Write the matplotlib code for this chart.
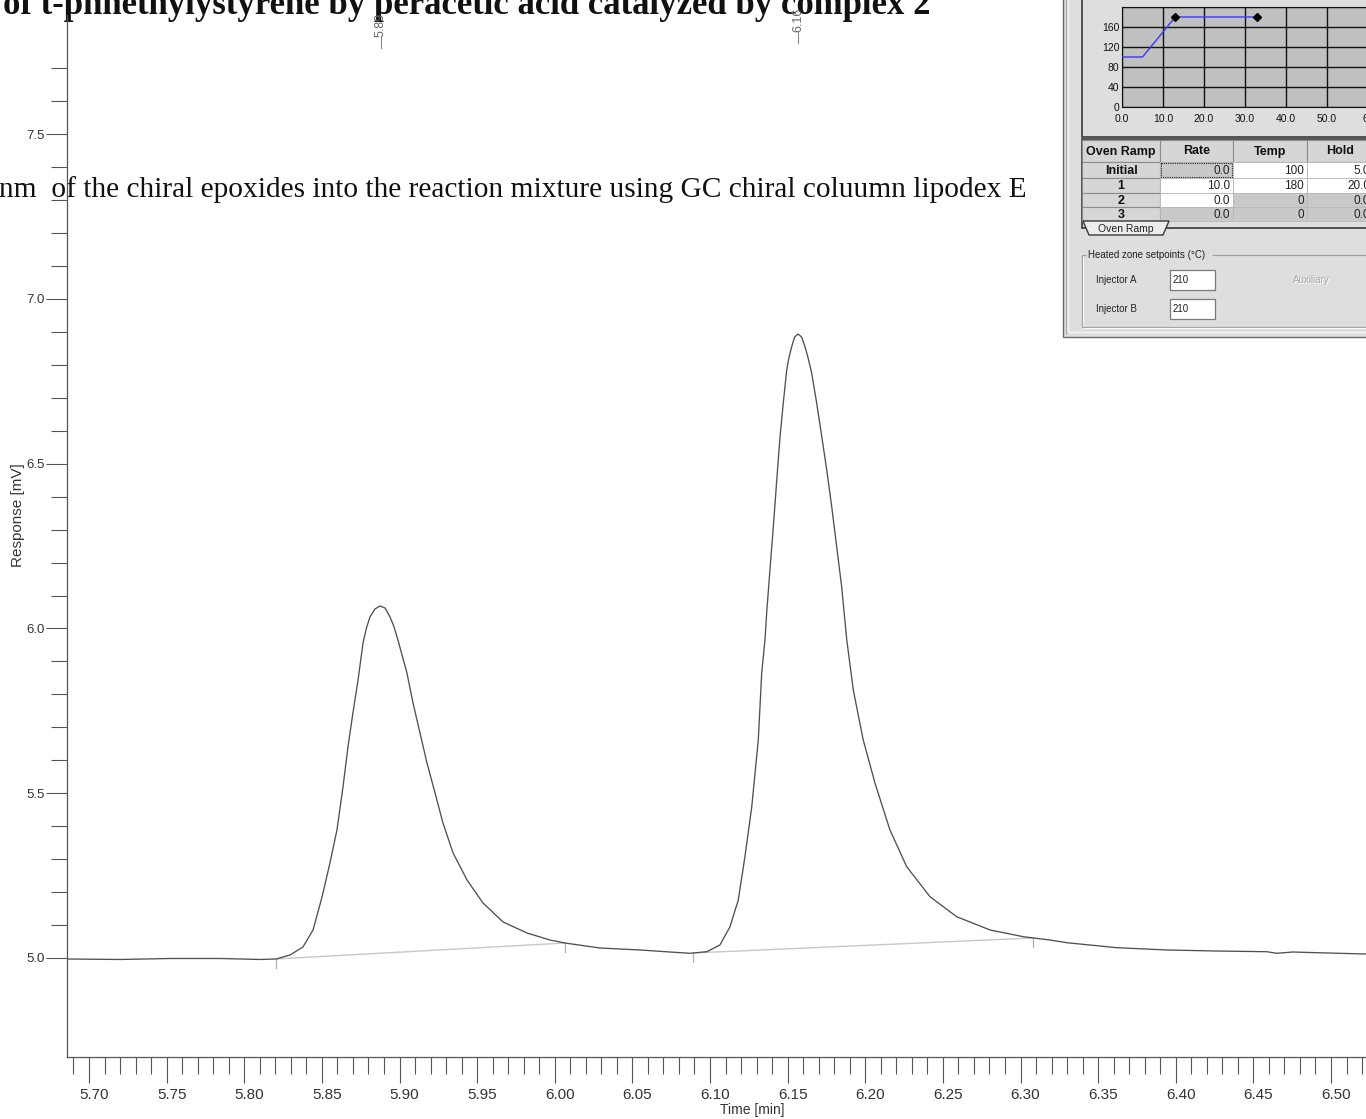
import matplotlib
matplotlib.use('Agg')
import matplotlib.pyplot as plt
from matplotlib.patches import Rectangle, Polygon
from matplotlib.transforms import ScaledTranslation
import numpy as np

W, H, DPI = 1366, 1119, 100
plt.rcParams['font.family'] = ['Liberation Sans', 'DejaVu Sans']

# ---------------- data ----------------
time_min = [5.6858, 5.7200, 5.7522, 5.7844, 5.8101, 5.8205,
            5.8295, 5.8378, 5.8443, 5.8501, 5.8552, 5.8597, 5.8636, 5.8668,
            5.8700, 5.8733, 5.8765, 5.8787, 5.8810, 5.8842, 5.8874, 5.8907,
            5.8939, 5.8965,
            5.8990, 5.9048, 5.9087, 5.9132, 5.9177, 5.9229, 5.9280, 5.9345,
            5.9435, 5.9538, 5.9667, 5.9821, 5.9969, 6.0066, 6.0291, 6.0549,
            6.0742, 6.0871,
            6.0979, 6.1064, 6.1129, 6.1182, 6.1225, 6.1269, 6.1311, 6.1333,
            6.1354, 6.1365, 6.1386, 6.1408, 6.1430, 6.1451, 6.1472, 6.1494,
            6.1508, 6.1526, 6.1545, 6.1567, 6.1590, 6.1612, 6.1632, 6.1655,
            6.1687, 6.1720, 6.1752, 6.1784,
            6.1816, 6.1848, 6.1881, 6.1923, 6.1987, 6.2063, 6.2159, 6.2267,
            6.2417, 6.2589, 6.2804, 6.3018, 6.3190, 6.3298, 6.3620, 6.3942,
            6.4264, 6.4586, 6.4650, 6.4755, 6.4908, 6.5225]
response_mv = [4.9970, 4.9955, 4.9985, 4.9985, 4.9955, 4.9970,
               5.0091, 5.0334, 5.0850, 5.1851, 5.2883, 5.3885, 5.5190, 5.6404,
               5.7436, 5.8437, 5.9560, 6.0015, 6.0349, 6.0592, 6.0683, 6.0622,
               6.0349, 6.0046,
               5.9651, 5.8649, 5.7739, 5.6829, 5.5918, 5.5008, 5.4097, 5.3187,
               5.2367, 5.1669, 5.1093, 5.0759, 5.0546, 5.0455, 5.0303, 5.0243,
               5.0182, 5.0143,
               5.0191, 5.0395, 5.0950, 5.1760, 5.3074, 5.4592, 5.6616, 5.8649,
               5.9651, 6.0470, 6.1775, 6.3090, 6.4507, 6.5821, 6.6844, 6.7845,
               6.8209, 6.8553, 6.8847, 6.8938, 6.8847, 6.8553, 6.8209, 6.7754,
               6.6844, 6.5821, 6.4810, 6.3697,
               6.2483, 6.1269, 5.9651, 5.8134, 5.6616, 5.5302, 5.3885, 5.2771,
               5.1860, 5.1253, 5.0850, 5.0646, 5.0546, 5.0464, 5.0313, 5.0243,
               5.0212, 5.0191, 5.0143, 5.0182, 5.0161, 5.0121]

# integration baselines (start/end time, start/end response)
base1_t = [5.8205, 6.0066]
base1_v = [4.9970, 5.0455]
base2_t = [6.0891, 6.3081]
base2_v = [5.0152, 5.0607]

peak_times = [5.888, 6.157]
peak_labels = ["5.89", "6.16"]
peak_label_v = [7.795, 7.810]

x_major = [5.70, 5.75, 5.80, 5.85, 5.90, 5.95, 6.00, 6.05, 6.10,
           6.15, 6.20, 6.25, 6.30, 6.35, 6.40, 6.45, 6.50]
y_major = [5.0, 5.5, 6.0, 6.5, 7.0, 7.5]

title_text = "of t-phnethylystyrene by peracetic acid catalyzed by complex 2"
subtitle_text = "nm  of the chiral epoxides into the reaction mixture using GC chiral coluumn lipodex E"

# oven program (inset)
ramp_time = [0, 5, 13, 33]
ramp_temp = [100, 100, 180, 180]
ramp_rows = ["Initial", "1", "2", "3"]
ramp_rate = ["0.0", "10.0", "0.0", "0.0"]
ramp_tempcol = ["100", "180", "0", "0"]
ramp_hold = ["5.0", "20.0", "0.0", "0.0"]
ramp_header = ["Oven Ramp", "Rate", "Temp", "Hold"]
injector_labels = ["Injector A", "Injector B"]
injector_values = ["210", "210"]

# ---------------- figure ----------------
fig = plt.figure(figsize=(W / DPI, H / DPI), dpi=DPI)
fig.patch.set_facecolor('white')

def px_rect(x0, y0, x1, y1):
    return [x0 / W, 1 - y1 / H, (x1 - x0) / W, (y1 - y0) / H]

ax = fig.add_axes(px_rect(67, 15, 1366, 1057))
ax.set_facecolor('none')
ax.plot(time_min, response_mv, color='#505050', lw=0.95, zorder=3)
ax.plot(base1_t, base1_v, color='#c8c8c8', lw=1.0, zorder=2)
ax.plot(base2_t, base2_v, color='#c8c8c8', lw=1.0, zorder=2)
drop = 0.026
for t, v in [(base1_t[0], base1_v[0]), (base1_t[1], base1_v[1]),
             (base2_t[0], base2_v[0]), (base2_t[1], base2_v[1])]:
    ax.plot([t, t], [v, v - drop], color='#b0b0b0', lw=0.9, zorder=2)

ax.set_xlim(5.68583, 6.52254)
ax.set_ylim(4.69954, 7.86191)
for s in ['top', 'right']:
    ax.spines[s].set_visible(False)
for s in ['left', 'bottom']:
    ax.spines[s].set_color('#555555')
    ax.spines[s].set_linewidth(0.9)

x_minor = [round(5.69 + 0.01 * i, 2) for i in range(0, 84)]
x_minor = [v for v in x_minor if all(abs(v - m) > 1e-6 for m in x_major)]
y_minor = [round(5.1 + 0.1 * i, 1) for i in range(0, 27)]
y_minor = [v for v in y_minor if all(abs(v - m) > 1e-6 for m in y_major)]

ax.set_xticks(x_major)
ax.set_xticklabels([f"{v:.2f}" for v in x_major])
ax.set_xticks(x_minor, minor=True)
ax.set_yticks(y_major)
ax.set_yticklabels([f"{v:.1f}" for v in y_major])
ax.set_yticks(y_minor, minor=True)

ax.tick_params(axis='x', which='major', direction='out', length=19, width=0.8,
               color='#555555', labelsize=11, labelcolor='#333333', pad=3)
ax.tick_params(axis='x', which='minor', direction='out', length=12.5, width=0.8,
               color='#555555')
ax.tick_params(axis='y', which='major', direction='out', length=15, width=0.8,
               color='#555555', labelsize=9.5, labelcolor='#333333', pad=1)
ax.tick_params(axis='y', which='minor', direction='out', length=11.5, width=0.8,
               color='#555555')
off = ScaledTranslation(5 / DPI, 0, fig.dpi_scale_trans)
for lab in ax.get_xticklabels():
    lab.set_transform(lab.get_transform() + off)

ax.set_xlabel("Time [min]", fontsize=10, color='#333333')
ax.xaxis.set_label_coords((752 - 67) / 1299, -(1110 - 1057) / 1042)
ax.xaxis.label.set_va('center')
ax.set_ylabel("Response [mV]", fontsize=11, color='#333333')
ax.yaxis.set_label_coords((18 - 67) / 1299, (1057 - 515) / 1042)
ax.yaxis.label.set_va('center')

# document title lines (drawn beneath the peak labels)
ax.text(3 / W, 1 - 14 / H, title_text, transform=fig.transFigure,
        fontsize=25, fontweight='bold', family='Liberation Serif',
        va='baseline', ha='left', color='#111111', clip_on=False, zorder=1)
ax.text(-1 / W, 1 - 197 / H, subtitle_text, transform=fig.transFigure,
        fontsize=21.2, family='Liberation Serif', va='baseline', ha='left',
        color='#111111', clip_on=False, zorder=1)

for t, lab, lv in zip(peak_times, peak_labels, peak_label_v):
    ax.text(t, lv, lab, rotation=90, ha='center', va='bottom', fontsize=9,
            color='#666666', clip_on=False, zorder=10)
    ax.plot([t, t], [lv - 0.032, lv], color='#888888', lw=0.8, clip_on=False,
            zorder=10)

# ---------------- inset: GC oven program screenshot ----------------
ov = fig.add_axes([0, 0, 1, 1], zorder=5)
ov.set_xlim(0, W)
ov.set_ylim(H, 0)
ov.axis('off')
ov.patch.set_alpha(0)

def rect(x0, y0, x1, y1, fc, ec='none', lw=1.0, **kw):
    ov.add_patch(Rectangle((x0, y0), x1 - x0, y1 - y0, facecolor=fc,
                           edgecolor=ec, lw=lw, **kw))

def line(xs, ys, c, lw=1.0, **kw):
    ov.plot(xs, ys, color=c, lw=lw, solid_capstyle='butt', **kw)

PANEL = '#dedede'
rect(1063, -5, 1372, 337, PANEL, '#6a6a6a', 1.0)
line([1068, 1068], [-5, 332], '#f6f6f6', 1.0)
line([1068, 1372], [332, 332], '#f6f6f6', 1.0)
line([1066, 1066], [-5, 334], '#a8a8a8', 0.8)

# chart frame
rect(1082, -5, 1372, 137, 'none', '#3a3a3a', 1.2)

# table
col_x = [1082, 1160, 1233, 1307, 1373]
row_y = [140, 162, 178, 193, 207, 221]
rect(1082, 139, 1372, 228, PANEL, '#3a3a3a', 1.2)
for j in range(4):
    rect(col_x[j], row_y[0], col_x[j + 1], row_y[1], '#d6d6d6', '#8c8c8c', 0.8)
    ov.text((col_x[j] + col_x[j + 1]) / 2, (row_y[0] + row_y[1]) / 2 + 0.5,
            ramp_header[j], ha='center', va='center', fontsize=9,
            fontweight='bold', color='#111111')
cell_style = [['hatch_focus', 'white', 'white'],
              ['white', 'white', 'white'],
              ['white', 'hatch', 'hatch'],
              ['hatch', 'hatch', 'hatch']]
cols_vals = [ramp_rate, ramp_tempcol, ramp_hold]
for i in range(4):
    y0, y1 = row_y[i + 1], row_y[i + 2]
    rect(col_x[0], y0, col_x[1], y1, '#d6d6d6', '#8c8c8c', 0.8)
    ov.text((col_x[0] + col_x[1]) / 2, (y0 + y1) / 2 + 0.5, ramp_rows[i],
            ha='center', va='center', fontsize=9, fontweight='bold',
            color='#111111')
    for j in range(3):
        st = cell_style[i][j]
        fc = 'white' if st == 'white' else '#c9c9c9'
        rect(col_x[j + 1], y0, col_x[j + 2], y1, fc, '#b8b8b8', 0.6)
        if st == 'hatch_focus':
            rect(col_x[j + 1] + 1, y0 + 1, col_x[j + 2] - 1, y1 - 1, 'none',
                 '#222222', 0.8, linestyle=(0, (1, 1)))
        ov.text(col_x[j + 2] - 3, (y0 + y1) / 2 + 0.5, cols_vals[j][i],
                ha='right', va='center', fontsize=8.5, color='#222222')
# tab
ov.add_patch(Polygon([(1083, 221), (1089, 235), (1163, 235), (1169, 221)],
                     closed=True, facecolor='#ececec', edgecolor='#3a3a3a',
                     lw=1.0))
ov.text(1126, 228.5, "Oven Ramp", ha='center', va='center', fontsize=7.5,
        color='#222222')

# heated zone group box
gb = '#a0a0a0'
line([1082, 1086], [255, 255], gb, 0.9)
line([1212, 1372], [255, 255], gb, 0.9)
line([1082, 1082], [255, 327], gb, 0.9)
line([1082, 1372], [327, 327], gb, 0.9)
line([1083, 1083], [256, 326], '#f8f8f8', 0.8)
line([1083, 1372], [328, 328], '#f8f8f8', 0.8)
ov.text(1088, 255, "Heated zone setpoints (\u00b0C)", ha='left', va='center',
        fontsize=7, color='#222222')
for k, yy in enumerate([280, 309]):
    ov.text(1096, yy, injector_labels[k], ha='left', va='center', fontsize=7,
            color='#222222')
    rect(1170, yy - 10, 1215, yy + 10, 'white', '#7a7a7a', 0.9)
    ov.text(1173, yy, injector_values[k], ha='left', va='center', fontsize=7,
            color='#222222')
ov.text(1294, 281, "Auxiliary", ha='left', va='center', fontsize=7,
        color='#ffffff')
ov.text(1293, 280, "Auxiliary", ha='left', va='center', fontsize=7,
        color='#a8a8a8')

# oven ramp chart
rax = fig.add_axes(px_rect(1122, 7, 1122 + 41 * 7, 107), zorder=6)
rax.set_facecolor('#c0c0c0')
rax.set_xlim(0, 70)
rax.set_ylim(0, 200)
rax.set_xticks(range(0, 71, 10))
rax.set_xticklabels([f"{v:.1f}" if v < 60 else f"{v}" for v in range(0, 71, 10)])
rax.set_yticks([0, 40, 80, 120, 160, 200])
rax.set_yticklabels(["0", "40", "80", "120", "160", ""])
rax.grid(True, color='#111111', lw=1.0)
rax.set_axisbelow(True)
rax.tick_params(axis='x', length=0, labelsize=7.5, pad=5, colors='#111111')
rax.tick_params(axis='y', length=0, labelsize=7.5, pad=2, colors='#111111')
for s in rax.spines.values():
    s.set_color('#111111')
rax.plot(ramp_time, ramp_temp, color='#3a3af0', lw=1.0, zorder=3)
rax.plot(ramp_time[2:], ramp_temp[2:], linestyle='none', marker='D',
         markersize=4, color='#000000', zorder=4)

fig.savefig('out.png', dpi=DPI)
